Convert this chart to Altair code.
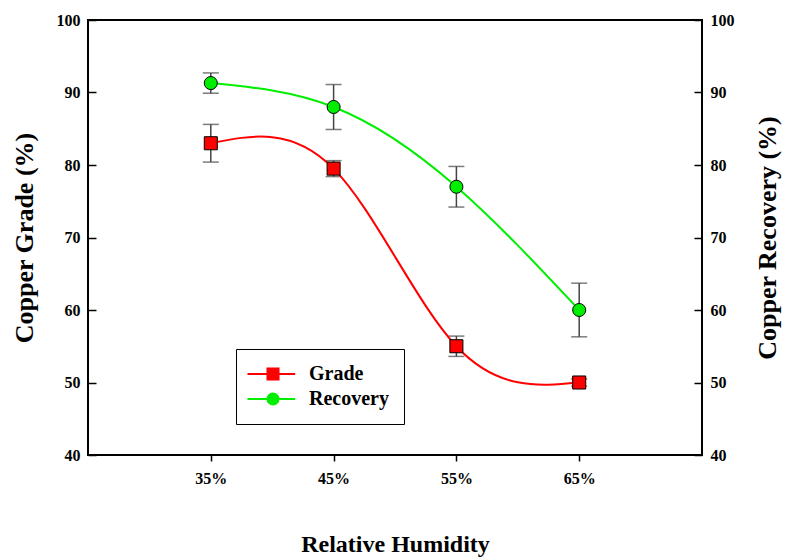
import altair as alt
import pandas as pd

# Relative humidity levels (%) and measured results with standard deviations
humidity = [35, 45, 55, 65]
grade = [83.0, 79.5, 55.0, 50.0]
grade_err = [2.6, 1.1, 1.4, 0.5]
recovery = [91.3, 88.0, 77.0, 60.0]
recovery_err = [1.4, 3.1, 2.8, 3.7]

series_names = ["Grade", "Recovery"]
series_colors = ["#ff0000", "#00ee00"]
series_shapes = ["square", "circle"]
x_ticks = [35, 45, 55, 65]
y_ticks = [40, 50, 60, 70, 80, 90, 100]

FONT = "Liberation Serif"
W, H = 614, 435


def frame(name, values, errors):
    return pd.DataFrame({
        "humidity": humidity,
        "series": name,
        "series_line": name,
        "value": values,
        "lo": [v - e for v, e in zip(values, errors)],
        "hi": [v + e for v, e in zip(values, errors)],
    })


grade_df = frame("Grade", grade, grade_err)
recovery_df = frame("Recovery", recovery, recovery_err)

x_enc = alt.X(
    "humidity:Q",
    scale=alt.Scale(domain=[25, 75], nice=False, zero=False),
    axis=alt.Axis(
        values=x_ticks, labelExpr="datum.value + '%'", title="Relative Humidity",
        grid=False, domain=False, tickSize=6, tickColor="black", tickWidth=1.5,
        labelFont=FONT, labelFontSize=16, labelFontWeight="bold", labelColor="black",
        labelPadding=9, titleFont=FONT, titleFontSize=24, titleFontWeight="bold",
        titleColor="black", titlePadding=46,
    ),
)

y_scale = alt.Scale(domain=[40, 100], nice=False, zero=False)


def side_axis(orient, title, title_pad):
    return alt.Axis(
        orient=orient, values=y_ticks, title=title, grid=False, domain=False,
        ticks=False, labelFont=FONT, labelFontSize=16, labelFontWeight="bold",
        labelColor="black", labelPadding=8, titleFont=FONT, titleFontSize=26,
        titleFontWeight="bold", titleColor="black", titleAngle=270,
        titlePadding=title_pad,
    )


def inner_ticks(orient):
    # tick marks pointing into the plot area, drawn from the opposite edge
    return alt.Axis(
        orient=orient, offset=-W, values=y_ticks, title=None, labels=False,
        grid=False, domain=False, ticks=True, tickSize=8, tickColor="black",
        tickWidth=1.5,
    )


# Legend: a boxed legend with line samples and labels, plus a second,
# label-less legend that places the markers on top of the line samples.
LEG_X, LEG_Y, LEG_PAD, LEG_FONT, LEG_ROW = 148, 329, 15, 20, 5

marker_legend = alt.Legend(
    title=None, orient="none", legendX=LEG_X + 12, legendY=LEG_Y, padding=LEG_PAD,
    symbolSize=170, symbolStrokeColor="black", symbolStrokeWidth=1,
    symbolOpacity=1, labelExpr="''", labelFontSize=LEG_FONT, rowPadding=LEG_ROW,
)
fill_enc = alt.Fill(
    "series:N",
    scale=alt.Scale(domain=series_names, range=series_colors),
    legend=marker_legend,
)
shape_enc = alt.Shape(
    "series:N",
    scale=alt.Scale(domain=series_names, range=series_shapes),
    legend=marker_legend,
)
color_enc = alt.Color(
    "series_line:N",
    scale=alt.Scale(range=series_colors),
    legend=alt.Legend(
        title=None, orient="none", legendX=LEG_X, legendY=LEG_Y, padding=LEG_PAD,
        symbolType="M-1.5,0L3.8,0", symbolSize=324, symbolStrokeWidth=2,
        labelFont=FONT, labelFontSize=LEG_FONT, labelFontWeight="bold",
        labelColor="black", labelOffset=38, rowPadding=LEG_ROW,
        strokeColor="black",
    ),
)


def series_group(df, axis):
    y_val = alt.Y("value:Q", scale=y_scale, axis=axis)
    base = alt.Chart(df)
    bars = base.mark_rule(color="#444444", strokeWidth=1.5).encode(
        x=x_enc, y=alt.Y("lo:Q", scale=y_scale, axis=axis), y2="hi:Q"
    )
    cap_lo = base.mark_tick(color="#444444", orient="horizontal", size=16, thickness=1.5).encode(
        x=x_enc, y=alt.Y("lo:Q", scale=y_scale, axis=axis)
    )
    cap_hi = base.mark_tick(color="#444444", orient="horizontal", size=16, thickness=1.5).encode(
        x=x_enc, y=alt.Y("hi:Q", scale=y_scale, axis=axis)
    )
    line = base.mark_line(interpolate="natural", strokeWidth=2).encode(
        x=x_enc, y=y_val, color=color_enc
    )
    pts = base.mark_point(filled=True, size=170, stroke="black", strokeWidth=1, opacity=1).encode(
        x=x_enc, y=y_val, fill=fill_enc, shape=shape_enc
    )
    return alt.layer(bars, cap_lo, cap_hi, line, pts)


grade_group = series_group(grade_df, side_axis("left", "Copper Grade (%)", 19))
recovery_group = series_group(recovery_df, side_axis("right", "Copper Recovery (%)", 46))

left_ticks = alt.Chart(grade_df).mark_point(opacity=0).encode(
    x=x_enc, y=alt.Y("value:Q", scale=y_scale, axis=inner_ticks("right"))
)
right_ticks = alt.Chart(grade_df).mark_point(opacity=0).encode(
    x=x_enc, y=alt.Y("value:Q", scale=y_scale, axis=inner_ticks("left"))
)

chart = (
    alt.layer(grade_group, recovery_group, left_ticks, right_ticks)
    .resolve_scale(y="independent")
    .properties(
        width=W, height=H,
        autosize=alt.AutoSizeParams(type="none"),
        padding={"left": 88, "top": 20, "right": 84, "bottom": 102},
        background="white",
    )
    .configure_view(stroke="black", strokeWidth=2)
)

chart.save("out.html", embed_options={"renderer": "svg", "actions": False})
